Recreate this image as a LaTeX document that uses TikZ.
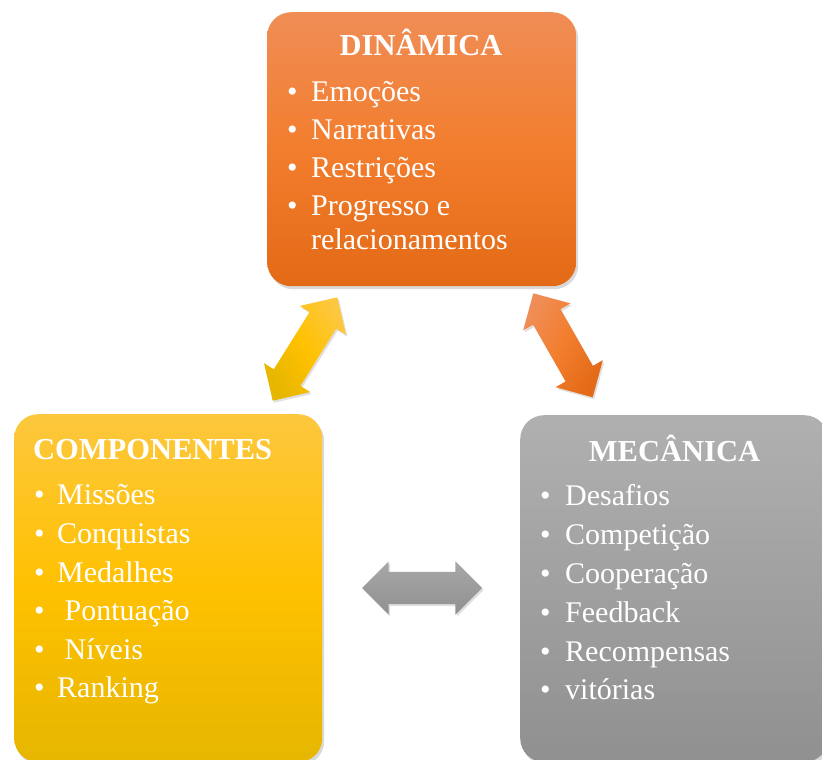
\documentclass[tikz,border=0pt]{standalone}
\usepackage{fontspec}
\setmainfont{Liberation Serif}
\usetikzlibrary{calc,shapes.arrows,shadows}

\definecolor{dinTop}{RGB}{240,141,86}
\definecolor{dinMid}{RGB}{242,125,45}
\definecolor{dinBot}{RGB}{227,106,22}
\definecolor{comTop}{RGB}{253,199,62}
\definecolor{comMid}{RGB}{255,193,0}
\definecolor{comBot}{RGB}{230,182,0}
\definecolor{mecTop}{RGB}{176,176,176}
\definecolor{mecBot}{RGB}{144,144,144}

\begin{document}
\begin{tikzpicture}[
    x=1pt, y=1pt,
    box/.style={rectangle, rounded corners=24, anchor=north west, inner sep=0,
      drop shadow={shadow xshift=2, shadow yshift=-3, opacity=0.3}},
    din box/.style={box, top color=dinTop, bottom color=dinBot, middle color=dinMid},
    com box/.style={box, top color=comTop, bottom color=comBot, middle color=comMid},
    mec box/.style={box, top color=mecTop, bottom color=mecBot},
    ttl/.style={text=white, inner sep=0, font=\fontsize{30.5}{33}\selectfont\bfseries},
    itm/.style={text=white, inner sep=0, anchor=base west, font=\fontsize{30}{33}\selectfont},
    arr/.style={double arrow, inner xsep=0, inner ysep=15.5, double arrow head extend=11.5,
      drop shadow={shadow xshift=1.5, shadow yshift=-2, opacity=0.25}},
    ]
\useasboundingbox (0,0) rectangle (822,760);
\def\bul#1{\makebox[#1][l]{\textbullet}}   % bullet + gap
\def\blockarrow#1#2#3#4{ % name, from, to, style
  \path let \p1=($(#3)-(#2)$), \n1={atan2(\y1,\x1)}, \n2={veclen(\x1,\y1)} in
    node[#4, rotate=\n1, minimum height=\n2, shading angle={0-\n1}] (#1) at ($(#2)!0.5!(#3)$) {};
}

    % DINAMICA (top)
    \node[din box, minimum width=309, minimum height=274] (din) at (267,748) {};
    \node[ttl, anchor=base] (dinT) at (421,704) {DINÂMICA};
    \foreach \t [count=\i] in {Emoções, Narrativas, Restrições, Progresso e}
        \node[itm] (din\i) at (287,{658-38*(\i-1)}) {\bul{24pt}\t};
    \node[itm] (din5) at (311,510) {relacionamentos};

    % COMPONENTES (left)
    \node[com box, minimum width=308, minimum height=348] (com) at (14,346) {};
    \node[ttl, anchor=base west] (comT) at (33,300) {COMPONENTES};
    \foreach \t [count=\i] in {Missões, Conquistas, Medalhes, {\ Pontuação}, {\ Níveis}, Ranking}
        \node[itm] (com\i) at (34,{255-38.6*(\i-1)}) {\bul{23pt}\t};

    % MECANICA (right)
    \node[mec box, minimum width=308, minimum height=347] (mec) at (520,345) {};
    \node[ttl, anchor=base] (mecT) at (674.5,298) {MECÂNICA};
    \foreach \t [count=\i] in {Desafios, Competição, Cooperação, Feedback, Recompensas, vitórias}
        \node[itm] (mec\i) at (540,{254-38.8*(\i-1)}) {\bul{25pt}\t};

    % ARROWS
    \coordinate (ya) at (272.7,359.3); \coordinate (yb) at (337.3,462.7);
    \coordinate (oa) at (533.3,466.7); \coordinate (ob) at (592.7,362.7);
    \coordinate (ga) at (362,172);     \coordinate (gb) at (482,172);
    \blockarrow{ylw}{ya}{yb}{arr, top color=comTop, bottom color=comBot, middle color=comMid}
    \blockarrow{org}{oa}{ob}{arr, top color=dinTop, bottom color=dinBot, middle color=dinMid}
    \blockarrow{gry}{ga}{gb}{arr, inner ysep=16, double arrow head extend=10.5,
        top color=mecTop!95!black, bottom color=mecBot}
\end{tikzpicture}
\end{document}
